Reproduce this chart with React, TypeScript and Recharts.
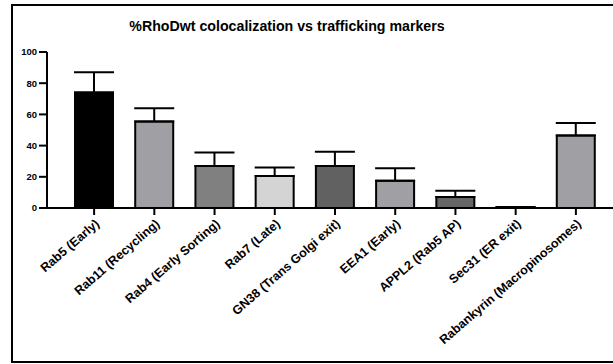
import React from "react";
import { BarChart, Bar, XAxis, YAxis, ErrorBar, Cell } from "recharts";

// values (mean % colocalization and upper SD)
const markers = [
  "Rab5 (Early)",
  "Rab11 (Recycling)",
  "Rab4 (Early Sorting)",
  "Rab7 (Late)",
  "GN38 (Trans Golgi exit)",
  "EEA1 (Early)",
  "APPL2 (Rab5 AP)",
  "Sec31 (ER exit)",
  "Rabankyrin (Macropinosomes)",
];
const means = [74, 55.5, 27, 20.5, 27, 17.5, 7, 0.4, 46.5];
const errors = [13, 8.5, 8.5, 5.5, 9, 8, 4, 0.3, 8];
const yTicks = [0, 20, 40, 60, 80, 100];

const fills = [
  "#000000",
  "#a0a0a4",
  "#808080",
  "#d4d4d4",
  "#616161",
  "#a0a0a4",
  "#666666",
  "#555555",
  "#a0a0a4",
];

const data = markers.map((name, i) => ({
  name,
  value: means[i],
  err: [0, errors[i]],
}));

const FONT = "'Liberation Sans', Arial, sans-serif";

const XTick = (props: any) => {
  const { x, y, payload } = props;
  return (
    <g transform={`translate(${x + 6},${y + 8})`}>
      <text
        transform="rotate(-41)"
        textAnchor="end"
        fontFamily={FONT}
        fontWeight="bold"
        fontSize={12.5}
        fill="#000"
      >
        {payload.value}
      </text>
    </g>
  );
};

export default function App() {
  return (
    <div
      style={{
        position: "absolute",
        left: 0,
        top: 0,
        width: 613,
        height: 364,
        overflow: "hidden",
        background: "#fff",
      }}
    >
      <style>{`html, body { margin: 0; overflow: hidden; }`}</style>
      {/* panel frame, cut off on the right in the source figure */}
      <div
        style={{
          position: "absolute",
          left: 11,
          top: 4,
          width: 602,
          height: 359,
          borderTop: "2px solid #000",
          borderLeft: "2px solid #000",
          borderBottom: "2px solid #000",
          boxSizing: "border-box",
        }}
      />
      <div
        style={{
          position: "absolute",
          left: 0,
          width: 574,
          top: 18,
          textAlign: "center",
          fontFamily: FONT,
          fontWeight: "bold",
          fontSize: 14.2,
          lineHeight: "16px",
        }}
      >
        %RhoDwt colocalization vs trafficking markers
      </div>
      <div style={{ position: "absolute", left: 0, top: 0 }}>
        <BarChart
          width={613}
          height={364}
          data={data}
          margin={{ top: 52, right: 0, bottom: 0, left: 0 }}
        >
          <XAxis
            dataKey="name"
            interval={0}
            height={156}
            padding={{ left: 17, right: 7 }}
            axisLine={{ stroke: "#000", strokeWidth: 2 }}
            tickLine={{ stroke: "#000", strokeWidth: 2 }}
            tickSize={7}
            tick={<XTick />}
          />
          <YAxis
            width={47}
            domain={[0, 100]}
            ticks={yTicks}
            axisLine={{ stroke: "#000", strokeWidth: 2 }}
            tickLine={{ stroke: "#000", strokeWidth: 2 }}
            tickSize={8}
            tickMargin={2}
            tick={{
              fill: "#000",
              fontFamily: FONT,
              fontWeight: "bold",
              fontSize: 9.5,
            }}
          />
          <Bar
            dataKey="value"
            barSize={38}
            stroke="#000"
            strokeWidth={2}
            isAnimationActive={false}
          >
            {data.map((d, i) => (
              <Cell key={d.name} fill={fills[i]} />
            ))}
            <ErrorBar
              dataKey="err"
              direction="y"
              width={20}
              stroke="#000"
              strokeWidth={2}
            />
          </Bar>
        </BarChart>
      </div>
    </div>
  );
}
